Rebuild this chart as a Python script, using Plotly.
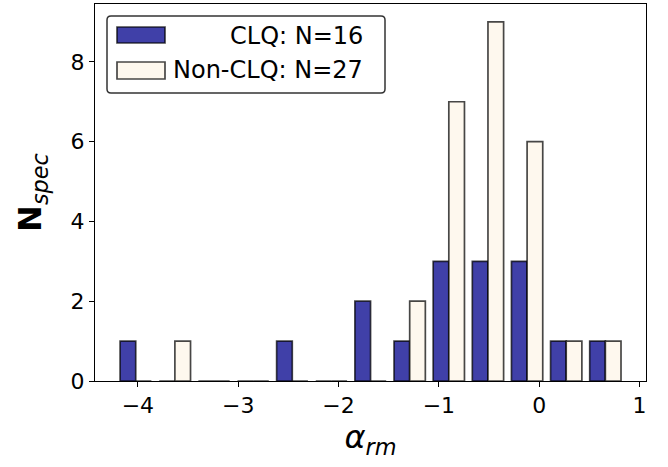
import numpy as np
import plotly.graph_objects as go

# Histogram bins (13 equal-width bins) and counts
bin_left = -4.216
bin_width = 0.39
n_bins = 13
clq_counts = [1, 0, 0, 0, 1, 0, 2, 1, 3, 3, 3, 1, 1]
nonclq_counts = [0, 1, 0, 0, 0, 0, 0, 2, 7, 9, 6, 1, 1]
clq_label = "CLQ: N=16"
nonclq_label = "Non-CLQ: N=27"
x_ticks = [-4, -3, -2, -1, 0, 1]
y_ticks = [0, 2, 4, 6, 8]

centers = [bin_left + bin_width * (i + 0.5) for i in range(n_bins)]

BLUE = "#4040a8"
CREAM = "#fef8ee"
EDGE = "rgba(0,0,0,0.72)"
FONT = "DejaVu Sans"

fig = go.Figure()
fig.add_trace(go.Bar(x=centers, y=clq_counts, name=clq_label,
                     marker=dict(color=BLUE, line=dict(color=EDGE, width=1.7))))
fig.add_trace(go.Bar(x=centers, y=nonclq_counts, name=nonclq_label,
                     marker=dict(color=CREAM, line=dict(color=EDGE, width=1.7))))

W, H = 668, 467
L, R, T, B = 95, 22, 4, 86
pw, ph = W - L - R, H - T - B

def px(x):
    return (x - L) / pw

def py(y):
    return (H - B - y) / ph

shapes = []
# legend frame with rounded corners
x0, x1, y0, y1 = 107, 385, 16, 93
r = 4
rx, ry = r / pw, r / ph
X0, X1, Y0, Y1 = px(x0), px(x1), py(y1), py(y0)
path = (f"M {X0+rx},{Y0} L {X1-rx},{Y0} Q {X1},{Y0} {X1},{Y0+ry} "
        f"L {X1},{Y1-ry} Q {X1},{Y1} {X1-rx},{Y1} L {X0+rx},{Y1} "
        f"Q {X0},{Y1} {X0},{Y1-ry} L {X0},{Y0+ry} Q {X0},{Y0} {X0+rx},{Y0} Z")
shapes.append(dict(type="path", xref="paper", yref="paper", path=path,
                   fillcolor="rgba(255,255,255,0.8)", line=dict(color="#333333", width=1.5)))
shapes.append(dict(type="rect", xref="paper", yref="paper",
                   x0=px(117), x1=px(165), y0=py(43), y1=py(27),
                   fillcolor=BLUE, line=dict(color=EDGE, width=1.7)))
shapes.append(dict(type="rect", xref="paper", yref="paper",
                   x0=px(117), x1=px(165), y0=py(79), y1=py(62),
                   fillcolor=CREAM, line=dict(color=EDGE, width=1.7)))

annotations = [
    dict(xref="paper", yref="paper", x=px(365), y=py(36), text=clq_label,
         xanchor="right", yanchor="middle", showarrow=False,
         font=dict(family=FONT, size=24, color="black")),
    dict(xref="paper", yref="paper", x=px(365), y=py(70), text=nonclq_label,
         xanchor="right", yanchor="middle", showarrow=False,
         font=dict(family=FONT, size=24, color="black")),
]

fig.update_layout(
    width=W, height=H,
    margin=dict(l=L, r=R, t=T, b=B, autoexpand=False),
    paper_bgcolor="white", plot_bgcolor="white",
    barmode="group", bargap=0.2, bargroupgap=0,
    showlegend=False,
    shapes=shapes, annotations=annotations,
    font=dict(family=FONT, color="black"),
)
fig.update_xaxes(range=[-4.427, 1.064], tickvals=x_ticks,
                 ticktext=[("\u2212" + str(abs(v))) if v < 0 else str(v) for v in x_ticks],
                 ticks="outside", ticklen=5, tickwidth=1.1, tickcolor="black",
                 showline=True, linecolor="black", linewidth=1.1, mirror=True,
                 showgrid=False, zeroline=False, automargin=False,
                 tickfont=dict(family=FONT, size=22),
                 title=dict(text="<i>α</i><sub><i>rm</i></sub>",
                            font=dict(family=FONT, size=32), standoff=6))
fig.update_yaxes(range=[0, 9.45], tickvals=y_ticks,
                 ticks="outside", ticklen=5, tickwidth=1.1, tickcolor="black",
                 showline=True, linecolor="black", linewidth=1.1, mirror=True,
                 showgrid=False, zeroline=False, automargin=False,
                 tickfont=dict(family=FONT, size=22),
                 title=dict(text="<b>N</b><sub><i>spec</i></sub>",
                            font=dict(family=FONT, size=32), standoff=19))

fig.write_html("out.html", config={"displayModeBar": False},
               post_script="document.body.style.margin='0';")
